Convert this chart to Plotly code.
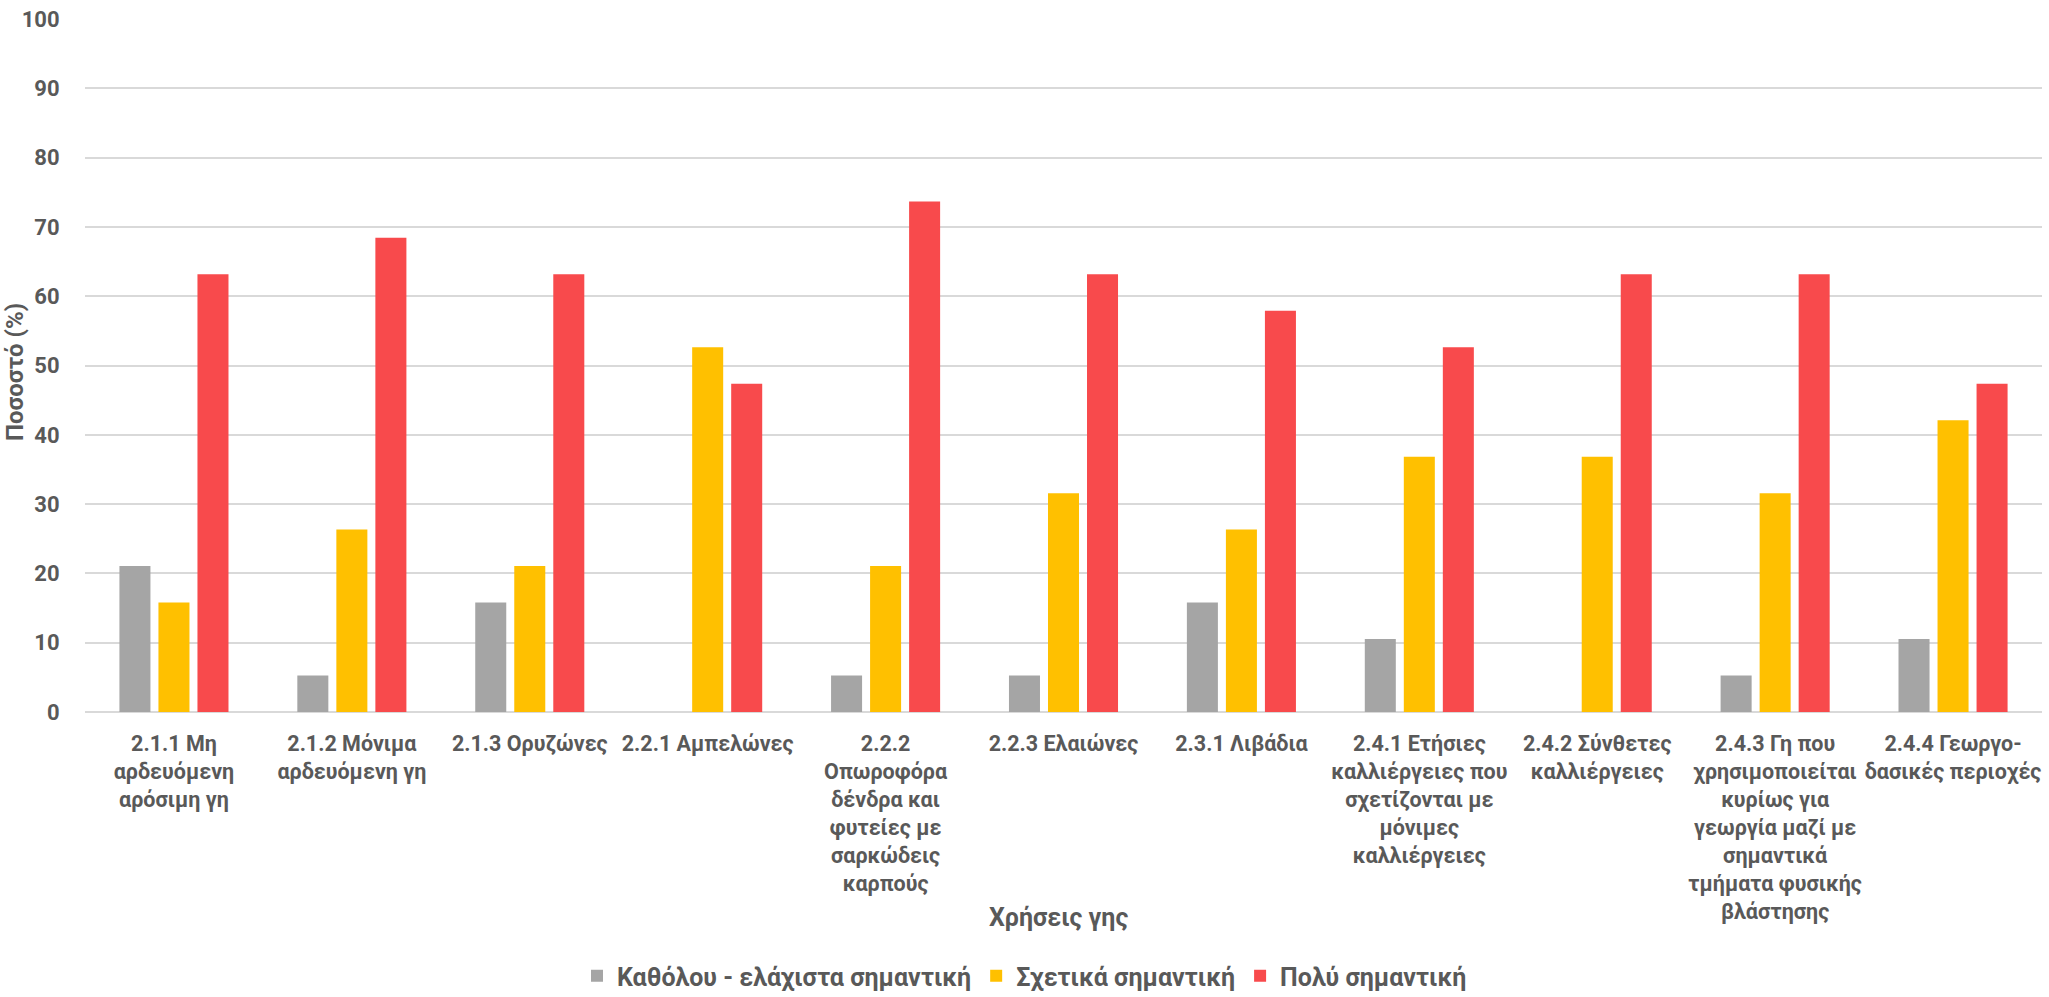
import plotly.graph_objects as go

categories = [
    "2.1.1 Μη<br>αρδευόμενη<br>αρόσιμη γη",
    "2.1.2 Μόνιμα<br>αρδευόμενη γη",
    "2.1.3 Ορυζώνες",
    "2.2.1 Αμπελώνες",
    "2.2.2<br>Οπωροφόρα<br>δένδρα και<br>φυτείες με<br>σαρκώδεις<br>καρπούς",
    "2.2.3 Ελαιώνες",
    "2.3.1 Λιβάδια",
    "2.4.1 Ετήσιες<br>καλλιέργειες που<br>σχετίζονται με<br>μόνιμες<br>καλλιέργειες",
    "2.4.2 Σύνθετες<br>καλλιέργειες",
    "2.4.3 Γη που<br>χρησιμοποιείται<br>κυρίως για<br>γεωργία μαζί με<br>σημαντικά<br>τμήματα φυσικής<br>βλάστησης",
    "2.4.4 Γεωργο-<br>δασικές περιοχές",
]

low_importance = [21.05, 5.26, 15.79, 0, 5.26, 5.26, 15.79, 10.53, 0, 5.26, 10.53]
medium_importance = [15.79, 26.32, 21.05, 52.63, 21.05, 31.58, 26.32, 36.84, 36.84, 31.58, 42.11]
high_importance = [63.16, 68.42, 63.16, 47.37, 73.68, 63.16, 57.89, 52.63, 63.16, 63.16, 47.37]

series_names = ["Καθόλου - ελάχιστα σημαντική", "Σχετικά σημαντική", "Πολύ σημαντική"]
series_colors = ["#A5A5A5", "#FFC000", "#F84A4C"]

FONT = "Roboto, 'Noto Sans', sans-serif"
TEXT = "#595959"

fig = go.Figure()
for name, vals, col in zip(series_names, [low_importance, medium_importance, high_importance], series_colors):
    fig.add_trace(go.Bar(x=categories, y=vals, name=name, marker_color=col,
                         marker_line_width=0))

W, H = 2049, 997
L, R, T, B = 85, 7, 13, 285
PW, PH = W - L - R, H - T - B

fig.update_layout(
    width=W, height=H,
    margin=dict(l=L, r=R, t=T, b=B),
    paper_bgcolor="white", plot_bgcolor="white",
    barmode="group", bargap=0.342, bargroupgap=0.205,
    font=dict(family=FONT, color=TEXT, size=20),
    showlegend=True,
    legend=dict(orientation="h", xref="container", x=0.5, xanchor="center",
                yref="container", y=(H - 976) / H, yanchor="middle",
                font=dict(size=25, family=FONT, color=TEXT, weight="bold"),
                itemwidth=30, tracegroupgap=0),
    xaxis=dict(tickfont=dict(size=21.5, family=FONT, color=TEXT, weight="bold"),
               ticks="outside", ticklen=12, tickcolor="rgba(0,0,0,0)",
               showline=False, showgrid=False),
    yaxis=dict(range=[0, 100], dtick=10,
               tickfont=dict(size=22, family=FONT, color=TEXT, weight="bold"),
               gridcolor="#D9D9D9", gridwidth=1.5,
               zeroline=True, zerolinecolor="#D9D9D9", zerolinewidth=2,
               ticks="outside", ticklen=20, tickcolor="rgba(0,0,0,0)",
               showline=False),
    annotations=[
        dict(text="Χρήσεις γης", xref="paper", yref="paper",
             x=(1058 - L) / PW, y=(H - B - 919) / PH,
             xanchor="center", yanchor="middle", showarrow=False,
             font=dict(size=25, family=FONT, color=TEXT, weight="bold")),
        dict(text="Ποσοστό (%)", xref="paper", yref="paper",
             x=(15 - L) / PW, y=(H - B - 369) / PH,
             xanchor="center", yanchor="middle", textangle=-90, showarrow=False,
             font=dict(size=24, family=FONT, color=TEXT, weight="bold")),
    ],
)

fig.write_html("out.html")
